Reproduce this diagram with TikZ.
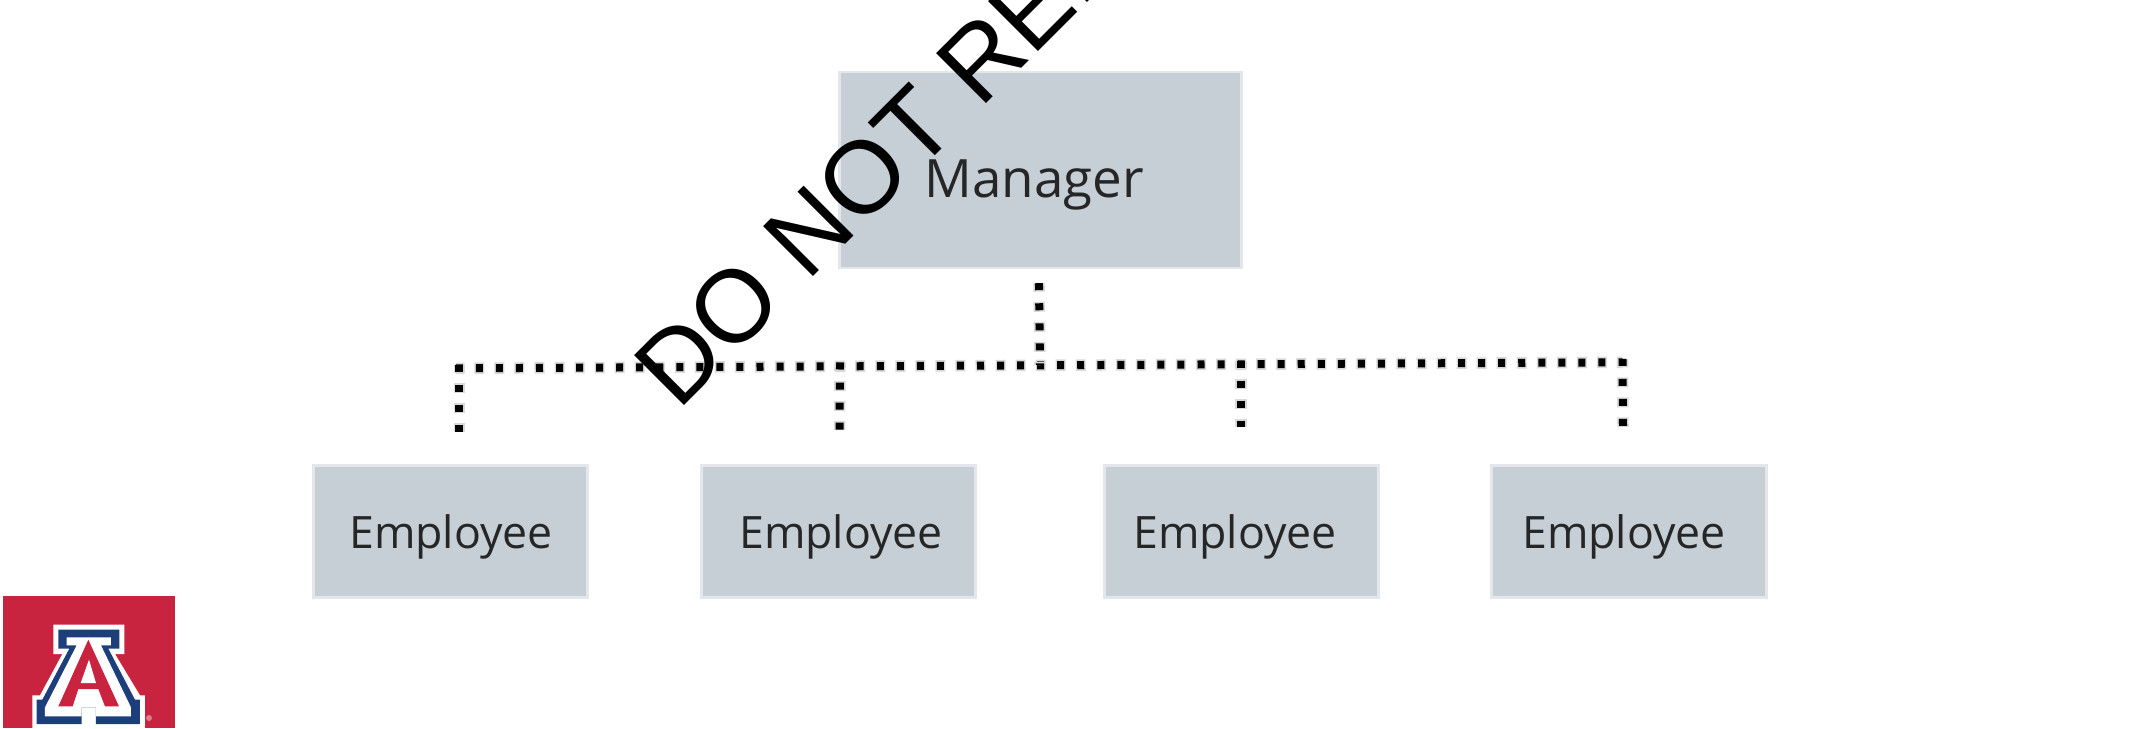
\documentclass[tikz,border=0pt]{standalone}
\usepackage{fontspec}
\setmainfont{Open Sans}
\newfontfamily\stampfont{Liberation Sans}
\definecolor{boxfill}{HTML}{C6CED6}
\definecolor{boxedge}{HTML}{E3E7EB}
\definecolor{azred}{HTML}{C8243F}
\definecolor{aznavy}{HTML}{1C3F7C}
\begin{document}
\begin{tikzpicture}[x=0.02cm,y=-0.02cm]

\tikzset{boss/.style = {draw=boxedge, line width=1.5pt, fill=boxfill, inner sep=0pt, minimum width=8.04cm, minimum height=3.92cm}}
\tikzset{staff/.style = {draw=boxedge, line width=1.5pt, fill=boxfill, inner sep=0pt, minimum width=5.49cm, minimum height=2.64cm}}
\tikzset{bosstext/.style = {inner sep=0pt, font=\fontsize{30.1}{30}\selectfont, text=black!85}}
\tikzset{stafftext/.style = {inner sep=0pt, font=\fontsize{25.4}{25}\selectfont, text=black!85}}
\tikzset{dots/.style = {line width=0.16cm, dash pattern=on 0.14cm off 0.261cm, shorten <=-0.07cm,
  preaction={draw=black!15, line width=0.23cm, dash pattern=on 0.2cm off 0.201cm, dash phase=0.03cm}}}

\useasboundingbox (0,0) rectangle (2156,728);
\clip (0,0) rectangle (2156,728);

% boxes
\node[boss] (M) at (1040.5,170) {};
\node[staff] (E1) at (450.5,531.5) {};
\node[staff] (E2) at (838.5,531.5) {};
\node[staff] (E3) at (1241.5,531.5) {};
\node[staff] (E4) at (1629,531.5) {};

\node[bosstext] (Mt) at (1034,185) {Manager};
\node[stafftext] (E1t) at (451,537) {Employee};
\node[stafftext] (E2t) at (841,537) {Employee};
\node[stafftext] (E3t) at (1235,537) {Employee};
\node[stafftext] (E4t) at (1624,537) {Employee};

% connectors
\coordinate (T0) at (1039,286.7);
\coordinate (T1) at (1040,365);
\coordinate (B1) at (459.3,368.3);
\coordinate (B2) at (840,366);
\coordinate (B3) at (1241,364);
\coordinate (B4) at (1622.5,362.3);
\coordinate (D1) at (459.3,432);
\coordinate (D2) at (839.5,430);
\coordinate (D3) at (1241,427);
\coordinate (D4) at (1623,427);

\draw[dots] (B1) -- (B4);
\draw[dots] (T0) -- (T1);
\draw[dots] (B1) -- (D1);
\draw[dots] (B2) -- (D2);
\draw[dots] (B3) -- (D3);
\draw[dots] (B4) -- (D4);

% logo
\fill[azred] (3,596) rectangle (175,728);
\begin{scope}[shift={(25,618)},x=0.02cm/3,y=-0.02cm/3]
\fill[white] (85,20) -- (298,20) -- (298,108) -- (270,108) -- (345,232) -- (360,232) -- (360,335) -- (22,335) -- (22,232) -- (45,232) -- (112,108) -- (85,108) -- cycle;
\fill[aznavy] (100,35) -- (283,35) -- (283,92) -- (250,92) -- (330,245) -- (345,245) -- (345,318) -- (213,318) -- (213,268) -- (170,268) -- (170,318) -- (35,318) -- (35,245) -- (52,245) -- (133,92) -- (100,92) -- cycle;
\fill[white] (125,58) -- (258,58) -- (258,82) -- (228,82) -- (318,268) -- (318,295) -- (213,295) -- (213,268) -- (170,268) -- (170,295) -- (60,295) -- (60,268) -- (155,82) -- (125,82) -- cycle;
\fill[azred] (190,65) -- (282,265) -- (240,265) -- (220,213) -- (160,213) -- (143,265) -- (100,265) -- cycle;
\fill[white] (192,125) -- (213,195) -- (167,195) -- cycle;
\fill[azred!60] (372,300) circle (9);
\end{scope}

% stamp
\node[anchor=base west, inner sep=0pt, rotate=45, font=\fontsize{58.4}{58}\selectfont\stampfont, text=black] (W) at (678,412) {DO NOT REP};

\end{tikzpicture}
\end{document}
